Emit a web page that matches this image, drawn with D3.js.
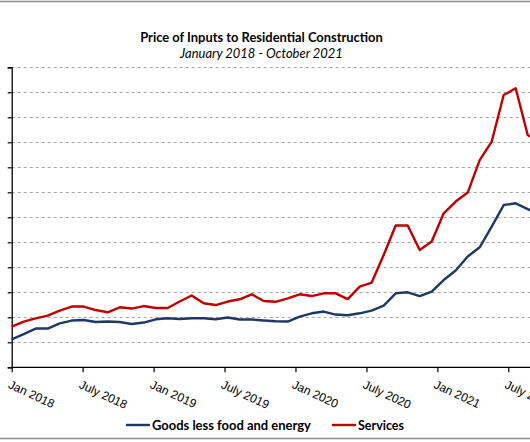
<!DOCTYPE html>
<html>
<head>
<meta charset="utf-8">
<script src="https://cdn.jsdelivr.net/npm/d3@7"></script>
<style>
  html, body { margin: 0; padding: 0; background: #fff; }
  svg { display: block; font-family: Lato, "Open Sans", sans-serif; }
</style>
</head>
<body>
<div id="chart"></div>
<script>
// ---- data (y in grid-interval units) ----
const months = [
  "2018-01","2018-02","2018-03","2018-04","2018-05","2018-06","2018-07","2018-08","2018-09","2018-10","2018-11","2018-12",
  "2019-01","2019-02","2019-03","2019-04","2019-05","2019-06","2019-07","2019-08","2019-09","2019-10","2019-11","2019-12",
  "2020-01","2020-02","2020-03","2020-04","2020-05","2020-06","2020-07","2020-08","2020-09","2020-10","2020-11","2020-12",
  "2021-01","2021-02","2021-03","2021-04","2021-05","2021-06","2021-07","2021-08","2021-09","2021-10"
];
const goods = [1.12,1.33,1.55,1.55,1.76,1.87,1.89,1.81,1.83,1.81,1.73,1.79,
  1.92,1.96,1.93,1.96,1.96,1.92,1.99,1.91,1.91,1.87,1.84,1.83,
  2.03,2.16,2.23,2.11,2.08,2.16,2.27,2.47,2.96,3.00,2.85,3.03,
  3.49,3.87,4.43,4.80,5.63,6.49,6.56,6.33,6.10,5.95];
const services = [1.63,1.83,1.96,2.07,2.27,2.43,2.43,2.29,2.20,2.40,2.35,2.45,
  2.37,2.37,2.63,2.87,2.56,2.49,2.63,2.72,2.92,2.65,2.62,2.76,
  2.92,2.85,2.96,2.96,2.73,3.23,3.39,4.49,5.67,5.67,4.69,5.03,
  6.16,6.63,6.99,8.29,9.03,10.89,11.16,9.29,9.00,9.30];
const tickLabels = ["Jan 2018","July 2018","Jan 2019","July 2019","Jan 2020","July 2020","Jan 2021","July 2021"];
const yTicks = [0,1,2,3,4,5,6,7,8,9,10,11,12];
const seriesNames = ["Goods less food and energy","Services"];
const seriesColors = ["#1f3864","#c00000"];

const W = 530, H = 442;
const svg = d3.select("#chart").append("svg").attr("width", W).attr("height", H);

// frame lines
svg.append("line").attr("x1",0).attr("x2",W).attr("y1",1.5).attr("y2",1.5)
  .attr("stroke","#8c8c8c").attr("stroke-width",1.6);
svg.append("line").attr("x1",0).attr("x2",W).attr("y1",438.5).attr("y2",438.5)
  .attr("stroke","#8c8c8c").attr("stroke-width",1.6);

function fit(sel, target) {
  const len = sel.node().getComputedTextLength();
  const fs = parseFloat(sel.attr("font-size"));
  sel.attr("font-size", fs * target / len);
}

// titles
const t1 = svg.append("text").attr("x",261.5).attr("y",42).attr("text-anchor","middle")
  .attr("font-size",13).attr("font-weight","bold").attr("fill","#000")
  .text("Price of Inputs to Residential Construction");
fit(t1, 243);
const t2 = svg.append("text").attr("x",261.5).attr("y",58).attr("text-anchor","middle")
  .attr("font-size",12).attr("font-style","italic").attr("fill","#000")
  .text("January 2018 - October 2021");
fit(t2, 163);

// scales
const x = d3.scalePoint().domain(months).range([11.7, 551.7]);
const xLab = d3.scalePoint().domain(tickLabels).range([11.7, 508.3]);
const y = d3.scaleLinear().domain([0,12]).range([367.3, 67.3]);

// grid
svg.append("g").selectAll("line").data(yTicks.filter(d => d > 0)).join("line")
  .attr("x1", 11.7).attr("x2", W)
  .attr("y1", d => Math.round(y(d)) + 0.5).attr("y2", d => Math.round(y(d)) + 0.5)
  .attr("stroke","#a6a6a6").attr("stroke-width",1).attr("stroke-dasharray","3,3");

// y axis (labels lie outside the visible area in the reference)
const yAxis = svg.append("g").attr("transform","translate(11.7,0)")
  .call(d3.axisLeft(y).tickValues(yTicks).tickSize(4).tickFormat(""));
yAxis.select(".domain").attr("stroke","#000").attr("stroke-width",1.3);
yAxis.selectAll(".tick line").attr("stroke","#000").attr("stroke-width",1.2);

// x axis
const xAxis = svg.append("g").attr("transform",`translate(0,${y(0)})`)
  .call(d3.axisBottom(xLab).tickSize(5).tickSizeOuter(0).tickFormat(""));
xAxis.select(".domain").attr("d", `M11.7,0H${W}`).attr("stroke","#000").attr("stroke-width",1.3);
xAxis.selectAll(".tick line").attr("stroke","#000").attr("stroke-width",1.2);
xAxis.selectAll(".tick").append("text")
  .attr("transform","translate(-1,12) rotate(25)")
  .attr("text-anchor","start").attr("dy","0.75em")
  .attr("font-size",12).attr("fill","#000")
  .text(d => d);

// lines
const line = d3.line().x((d,i) => x(months[i])).y(d => y(d));
[goods, services].forEach((s,k) => {
  svg.append("path").datum(s).attr("d", line)
    .attr("fill","none").attr("stroke",seriesColors[k]).attr("stroke-width",2.4)
    .attr("stroke-linejoin","round");
});

// legend
const legX = [126, 332];
const lg = svg.append("g");
seriesNames.forEach((n,k) => {
  lg.append("line").attr("x1",legX[k]).attr("x2",legX[k]+24).attr("y1",425).attr("y2",425)
    .attr("stroke",seriesColors[k]).attr("stroke-width",2.4);
  const t = lg.append("text").attr("x",legX[k]+26).attr("y",429.5)
    .attr("font-size",13).attr("font-weight","bold").attr("fill","#000").text(n);
  fit(t, k === 0 ? 159 : 46);
});
</script>
</body>
</html>
